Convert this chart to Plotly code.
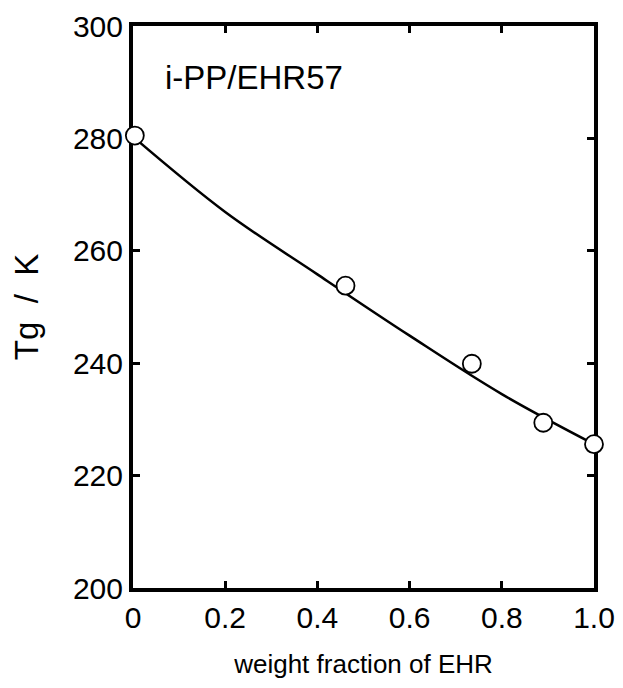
import plotly.graph_objects as go

# measured data points
w_ehr = [0.004, 0.461, 0.735, 0.89, 1.0]
tg_k = [280.5, 253.8, 239.9, 229.4, 225.6]

# fitted curve
curve_w = [0.0, 0.2, 0.4, 0.6, 0.8, 1.0]
curve_tg = [280.3, 266.9, 255.8, 244.9, 234.5, 225.6]

x_ticks = [0, 0.2, 0.4, 0.6, 0.8, 1.0]
x_tick_text = ["0", "0.2", "0.4", "0.6", "0.8", "1.0"]
y_ticks = [200, 220, 240, 260, 280, 300]

FONT = "Liberation Sans, Arial, Helvetica, sans-serif"
NB = "\u00a0"

fig = go.Figure()
fig.add_trace(go.Scatter(x=curve_w, y=curve_tg, mode="lines",
                         line=dict(color="black", width=2.5, shape="spline"),
                         hoverinfo="skip", showlegend=False))
fig.add_trace(go.Scatter(x=w_ehr, y=tg_k, mode="markers",
                         marker=dict(symbol="circle", size=18, color="white",
                                     line=dict(color="black", width=1.8)),
                         cliponaxis=False, showlegend=False))

axis_common = dict(showline=True, linecolor="black", linewidth=4, mirror="allticks",
                   ticks="inside", ticklen=7, tickwidth=2.5, tickcolor="black",
                   showgrid=False, zeroline=False, layer="below traces", automargin=False,
                   ticklabeloverflow="allow",
                   tickfont=dict(family=FONT, size=30, color="black"))

fig.update_xaxes(range=[0, 1.0], tickvals=x_ticks, ticktext=x_tick_text,
                 title=dict(text="weight fraction of EHR", font=dict(family=FONT, size=26, color="black"),
                            standoff=23),
                 **axis_common)
fig.update_yaxes(range=[200, 300], tickvals=y_ticks,
                 title=dict(text="Tg" + NB * 2 + "/" + NB * 2 + "K",
                            font=dict(family=FONT, size=33, color="black"),
                            standoff=27),
                 **axis_common)

fig.add_annotation(x=0.065, y=290.8, xref="x", yref="y", text="i-PP/EHR57",
                   showarrow=False, xanchor="left", yanchor="middle",
                   font=dict(family=FONT, size=33, color="black"))

# the page body adds an 8px margin, so the figure is sized to fit the 623x688 window
fig.update_layout(width=615, height=680, margin=dict(l=125, r=29, t=18, b=100),
                  plot_bgcolor="white", paper_bgcolor="white")

fig.write_html("out.html")
